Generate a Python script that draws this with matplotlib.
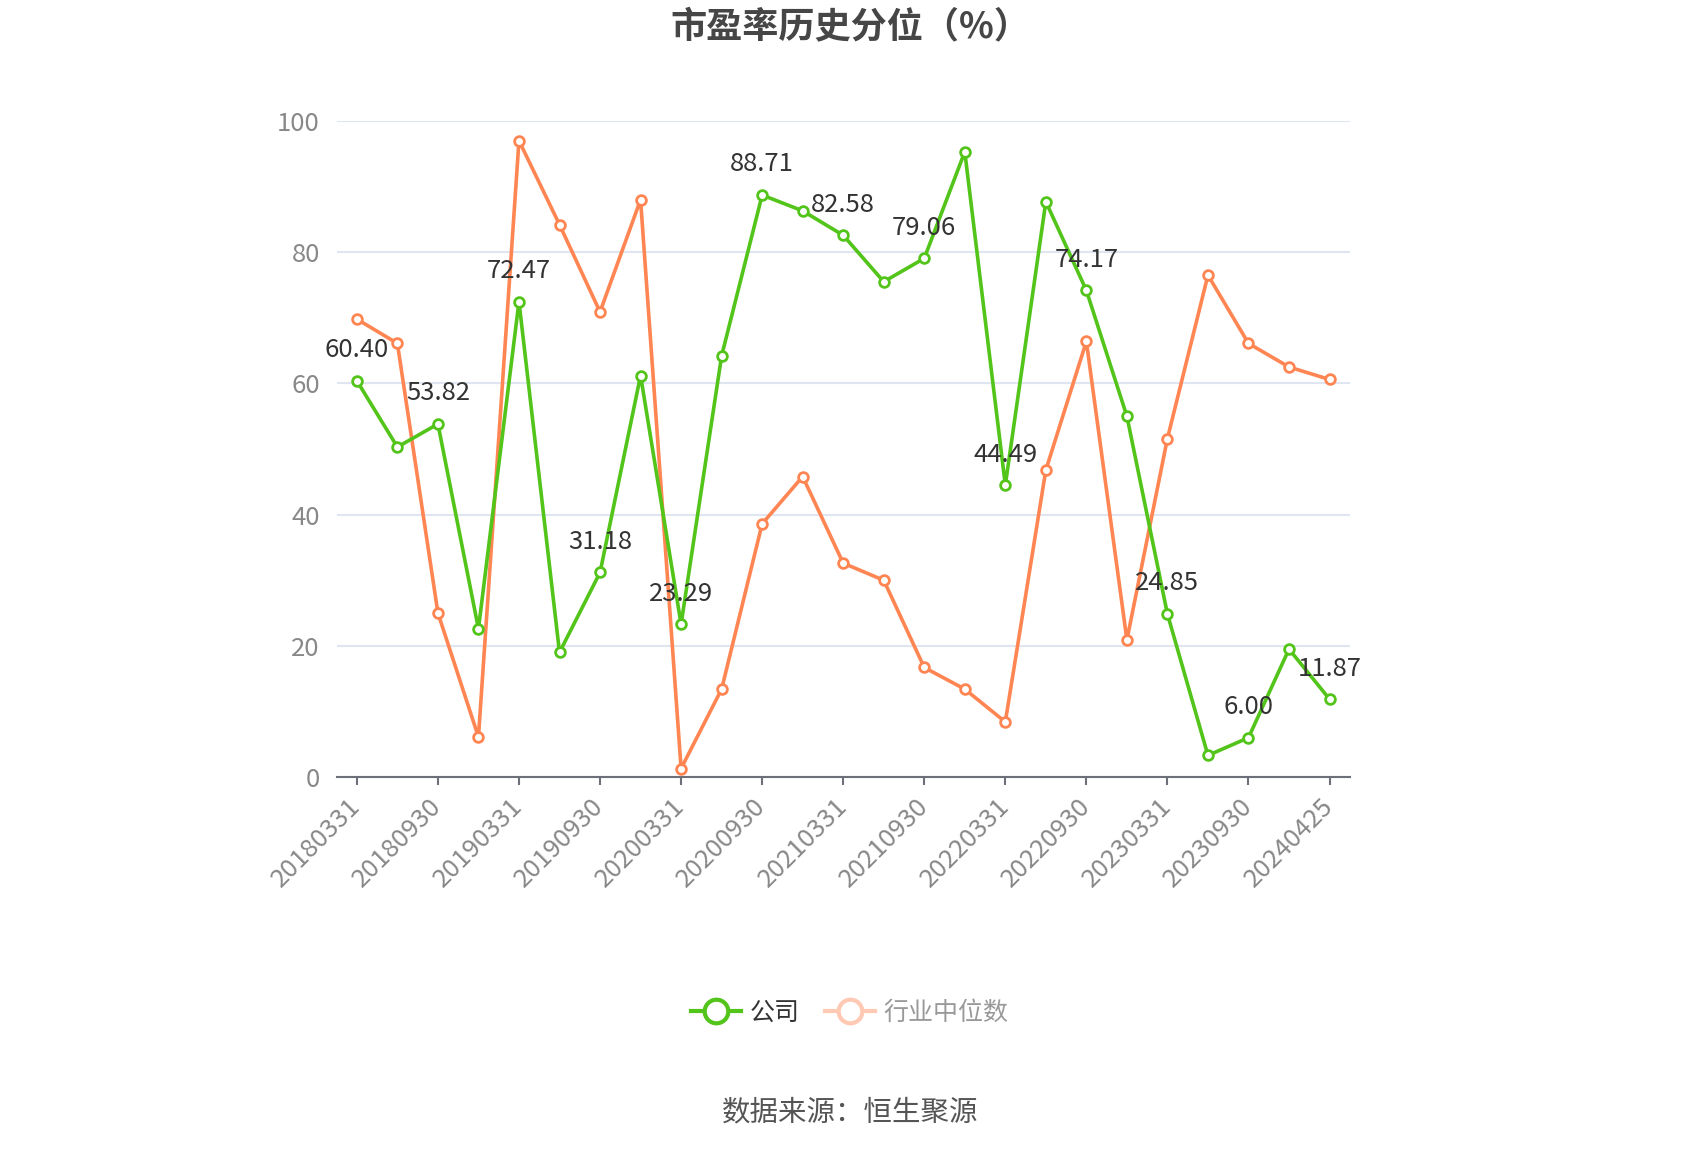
import matplotlib
matplotlib.use("Agg")
import matplotlib.pyplot as plt
from matplotlib.lines import Line2D

plt.rcParams['font.family'] = ['Noto Sans CJK SC', 'DejaVu Sans']

dates = ["20180331", "20180630", "20180930", "20181231", "20190331", "20190630",
         "20190930", "20191231", "20200331", "20200630", "20200930", "20201231",
         "20210331", "20210630", "20210930", "20211231", "20220331", "20220630",
         "20220930", "20221231", "20230331", "20230630", "20230930", "20231231",
         "20240425"]
company = [60.40, 50.3, 53.82, 22.6, 72.47, 19.0, 31.18, 61.2, 23.29, 64.2,
           88.71, 86.3, 82.58, 75.5, 79.06, 95.3, 44.49, 87.7, 74.17, 55.0,
           24.85, 3.3, 6.00, 19.5, 11.87]
industry = [69.8, 66.1, 25.0, 6.1, 97.0, 84.2, 70.9, 88.0, 1.3, 13.4,
            38.6, 45.8, 32.6, 30.0, 16.7, 13.4, 8.4, 46.8, 66.4, 20.9,
            51.6, 76.5, 66.1, 62.5, 60.6]
series_names = ["公司", "行业中位数"]
title = "市盈率历史分位（%）"
source = "数据来源：恒生聚源"

GREEN = "#52C41A"
ORANGE = "#FF8552"

fig = plt.figure(figsize=(17, 11.5), dpi=100)
ax = fig.add_axes([0.198, 0.3243, 0.596, 0.5705])

x = list(range(len(dates)))
ax.plot(x, industry, color=ORANGE, lw=2.6, marker='o', ms=7, mfc='white',
        mec=ORANGE, mew=2.0, zorder=3)
ax.plot(x, company, color=GREEN, lw=2.6, marker='o', ms=7, mfc='white',
        mec=GREEN, mew=2.0, zorder=4)

for i in range(0, len(dates), 2):
    ax.annotate(f"{company[i]:.2f}", (x[i], company[i]), xytext=(0, 22),
                textcoords='offset points', ha='center', va='center',
                fontsize=18.5, color='#333333', zorder=5)

ax.set_xlim(-0.5, len(dates) - 0.5)
ax.set_ylim(0, 100)
ax.set_yticks([0, 20, 40, 60, 80, 100])
ax.grid(axis='y', color='#E0E6F1', lw=1.5)
ax.set_axisbelow(True)
for s in ['top', 'right', 'left']:
    ax.spines[s].set_visible(False)
ax.spines['bottom'].set_color('#6E7079')
ax.spines['bottom'].set_linewidth(1.5)
ax.tick_params(axis='y', length=0, pad=12, labelsize=18.5, labelcolor='#888888')
ax.set_xticks(x[::2])
ax.set_xticklabels(dates[::2], rotation=45, ha='right', va='center',
                   rotation_mode='anchor', fontsize=18.5, color='#888888')
ax.tick_params(axis='x', length=6, width=1.5, color='#6E7079', pad=12)

fig.text(0.5, 1 - 27 / 1150, title, ha='center', va='center', fontsize=26,
         fontweight='bold', color='#464646')

handles = [
    Line2D([0], [0], color=GREEN, lw=3, marker='o', ms=17, mfc='white',
           mec=GREEN, mew=3),
    Line2D([0], [0], color='#FFC9B3', lw=3, marker='o', ms=17, mfc='white',
           mec='#FFC9B3', mew=3),
]
leg = fig.legend(handles, series_names, loc='center', bbox_to_anchor=(0.5, 1 - 1013 / 1150),
                 ncol=2, frameon=False, fontsize=18, handlelength=2.0,
                 columnspacing=1.0, handletextpad=0.35)
leg.get_texts()[0].set_color('#333333')
leg.get_texts()[1].set_color('#999999')

fig.text(0.5, 1 - 1112 / 1150, source, ha='center', va='center', fontsize=20.5,
         color='#555555')

fig.savefig("out.png", dpi=100, facecolor='white')
